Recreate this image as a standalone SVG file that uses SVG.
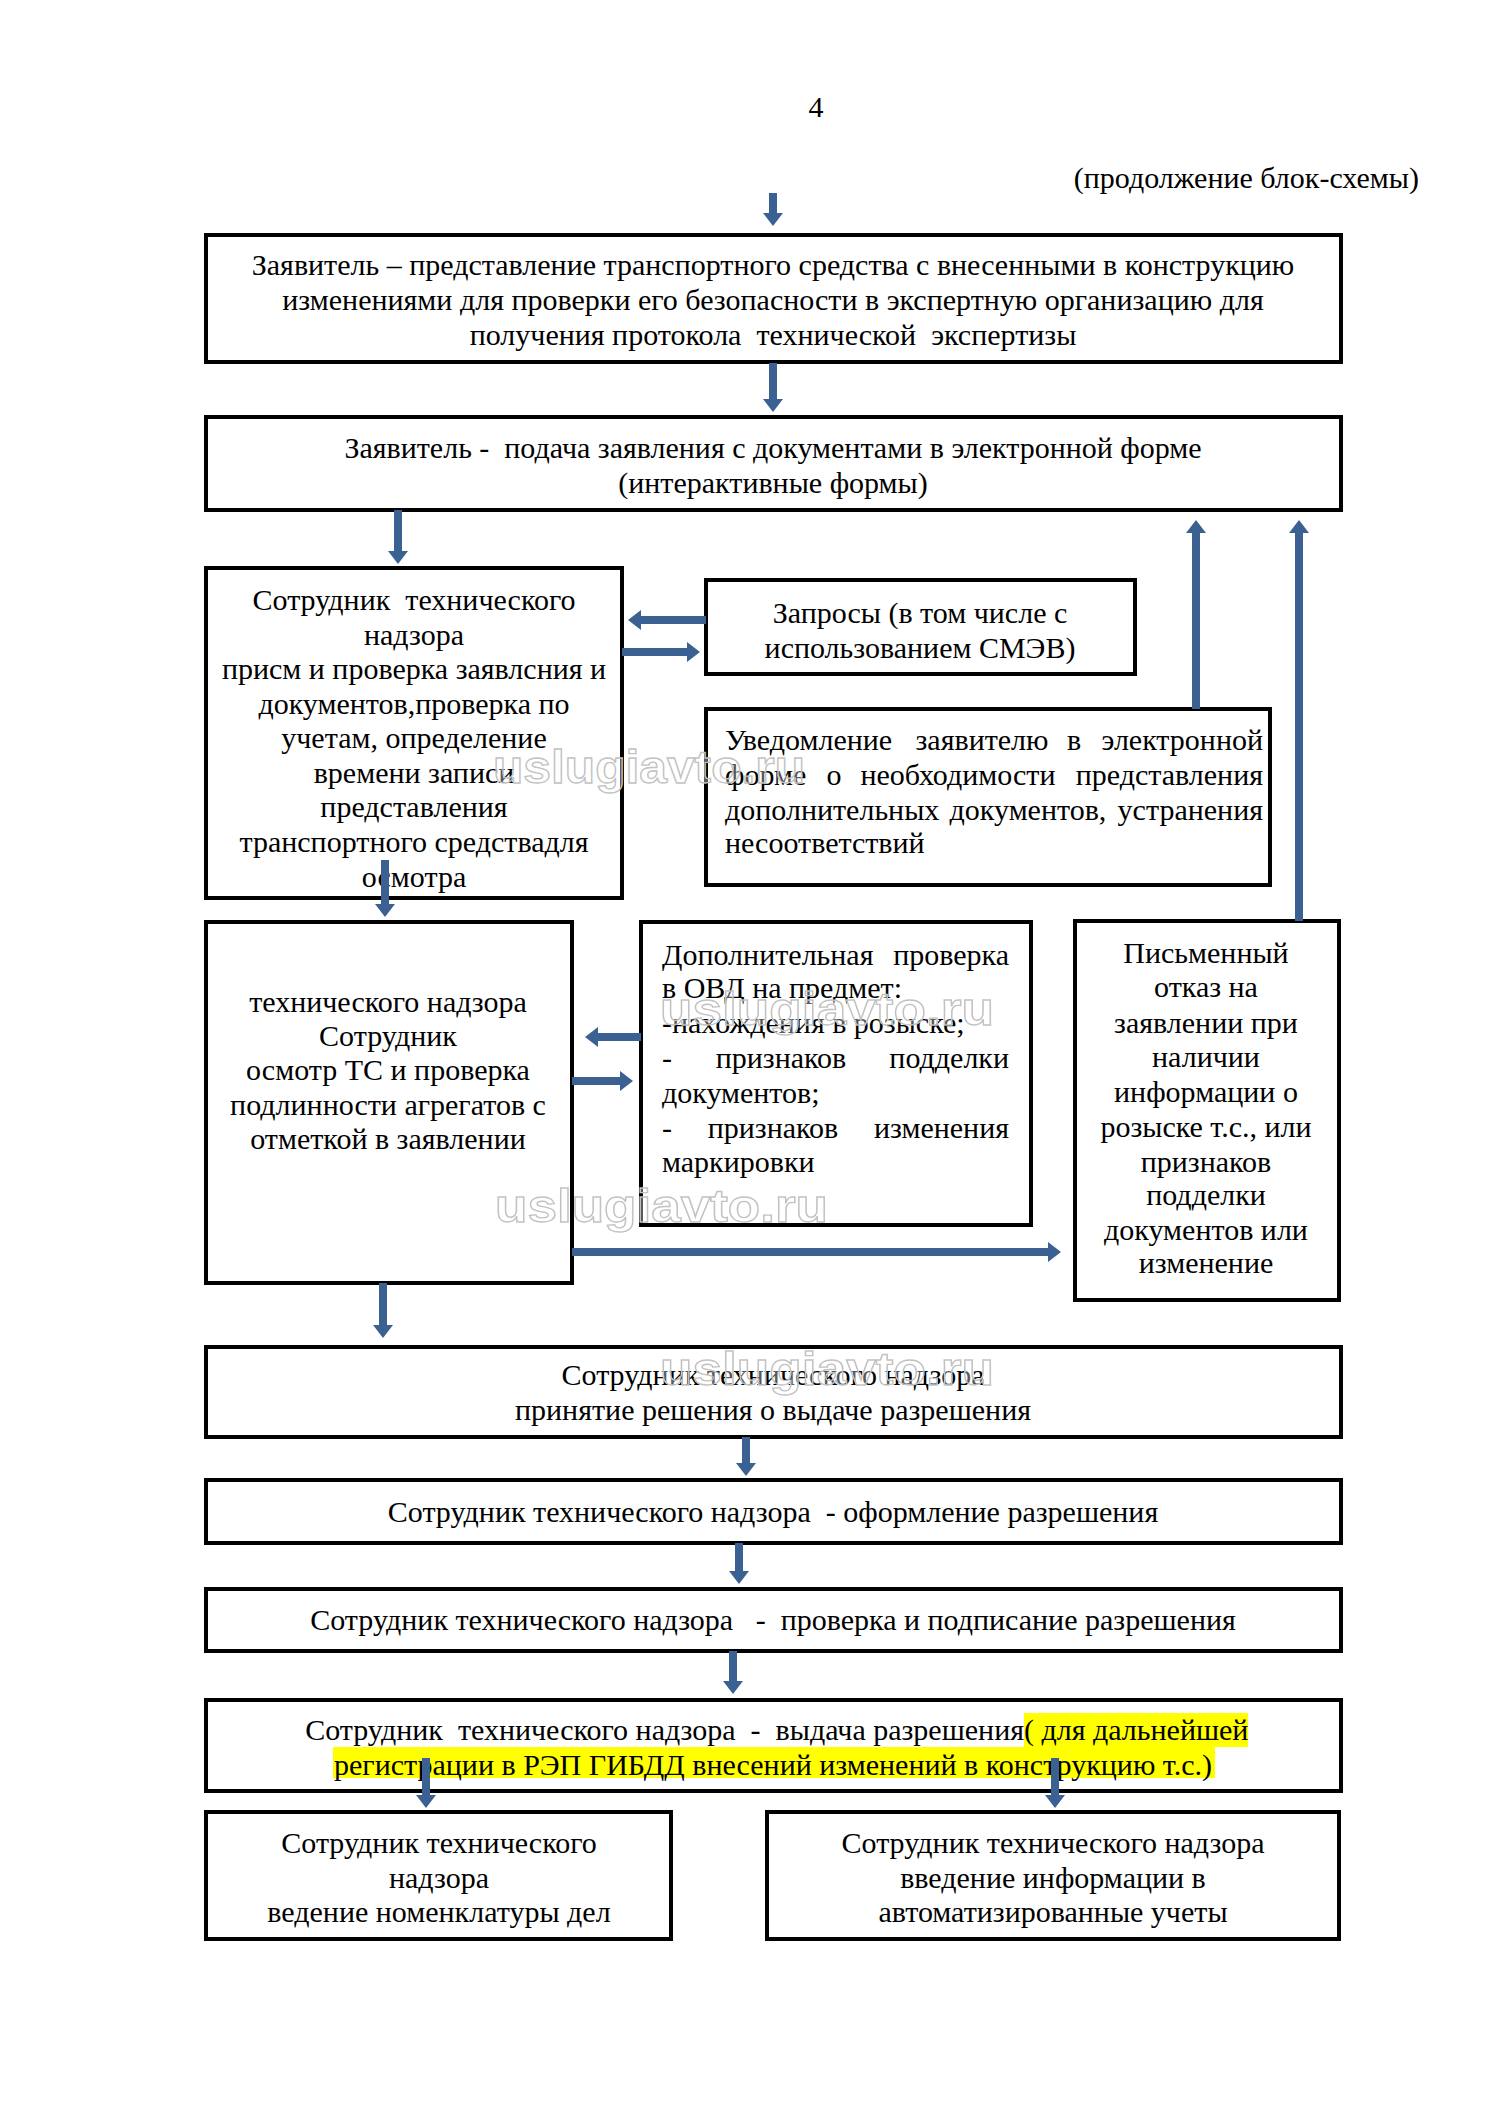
<svg xmlns="http://www.w3.org/2000/svg" width="1489" height="2105" viewBox="0 0 1489 2105">
<style>
.box{fill:#fff;stroke:#000;stroke-width:4}
.t{font-family:"Liberation Serif","Times New Roman",serif;font-size:30px;fill:#000;white-space:pre}
.c{text-anchor:middle}
.e{text-anchor:end}
.arr{stroke:#3B6192;stroke-width:8;fill:none;marker-end:url(#ah)}
.wm{font-family:"Liberation Sans",Arial,sans-serif;font-weight:bold;font-size:46px;fill:#fff;fill-opacity:0.35;stroke:#c2c2c2;stroke-width:1.3}
.hl{fill:#FFFF00}
</style>
<defs>
<marker id="ah" markerUnits="userSpaceOnUse" markerWidth="14" markerHeight="22" viewBox="0 -11 14 22" refX="1" refY="0" orient="auto">
<path d="M0,-10 L13,0 L0,10 z" fill="#3B6192"/>
</marker>
</defs>
<rect width="1489" height="2105" fill="#fff"/>
<text class="t c" x="816" y="117">4</text>
<text class="t e" x="1419" y="188">(продолжение блок-схемы)</text>

<g id="n1"><rect class="box" x="206" y="235" width="1135" height="127"/>
<text class="t c" x="773" y="275">Заявитель – представление транспортного средства с внесенными в конструкцию</text>
<text class="t c" x="773" y="310">изменениями для проверки его безопасности в экспертную организацию для</text>
<text class="t c" x="773" y="345">получения протокола  технической  экспертизы</text></g>

<g id="n2"><rect class="box" x="206" y="417" width="1135" height="93"/>
<text class="t c" x="773" y="458">Заявитель -  подача заявления с документами в электронной форме</text>
<text class="t c" x="773" y="493">(интерактивные формы)</text></g>

<g id="n3"><rect class="box" x="206" y="568" width="416" height="330"/>
<text class="t c" x="414" y="610">Сотрудник  технического</text>
<text class="t c" x="414" y="645">надзора</text>
<text class="t c" x="414" y="679">присм и проверка заявлсния и</text>
<text class="t c" x="414" y="714">документов,проверка по</text>
<text class="t c" x="414" y="748">учетам, определение</text>
<text class="t c" x="414" y="783">времени записи</text>
<text class="t c" x="414" y="817">представления</text>
<text class="t c" x="414" y="852">транспортного средствадля</text>
<text class="t c" x="414" y="887">осмотра</text></g>

<g id="n4"><rect class="box" x="706" y="580" width="429" height="94"/>
<text class="t c" x="920" y="623">Запросы (в том числе с</text>
<text class="t c" x="920" y="658">использованием СМЭВ)</text></g>

<g id="n5"><rect class="box" x="706" y="709" width="564" height="176"/>
<text class="t" x="725" y="750">Уведомление</text>
<text class="t c" x="982" y="750">заявителю</text>
<text class="t c" x="1074" y="750">в</text>
<text class="t e" x="1263" y="750">электронной</text>
<text class="t" x="725" y="785">форме</text>
<text class="t c" x="834" y="785">о</text>
<text class="t c" x="958" y="785">необходимости</text>
<text class="t e" x="1263" y="785">представления</text>
<text class="t" x="725" y="820">дополнительных</text>
<text class="t c" x="1028" y="820">документов,</text>
<text class="t e" x="1263" y="820">устранения</text>
<text class="t" x="725" y="853">несоответствий</text></g>

<g id="n6"><rect class="box" x="206" y="922" width="366" height="361"/>
<text class="t c" x="388" y="1012">технического надзора</text>
<text class="t c" x="388" y="1046">Сотрудник</text>
<text class="t c" x="388" y="1080">осмотр ТС и проверка</text>
<text class="t c" x="388" y="1115">подлинности агрегатов с</text>
<text class="t c" x="388" y="1149">отметкой в заявлении</text></g>

<g id="n7"><rect class="box" x="641" y="922" width="390" height="303"/>
<text class="t" x="662" y="965">Дополнительная</text>
<text class="t e" x="1009" y="965">проверка</text>
<text class="t" x="662" y="998">в ОВД на предмет:</text>
<text class="t" x="662" y="1033">-нахождения в розыске;</text>
<text class="t" x="662" y="1068">-</text>
<text class="t c" x="781" y="1068">признаков</text>
<text class="t e" x="1009" y="1068">подделки</text>
<text class="t" x="662" y="1103">документов;</text>
<text class="t" x="662" y="1138">-</text>
<text class="t c" x="773" y="1138">признаков</text>
<text class="t e" x="1009" y="1138">изменения</text>
<text class="t" x="662" y="1172">маркировки</text></g>

<g id="n8"><rect class="box" x="1075" y="921" width="264" height="379"/>
<text class="t c" x="1206" y="963">Письменный</text>
<text class="t c" x="1206" y="997">отказ на</text>
<text class="t c" x="1206" y="1033">заявлении при</text>
<text class="t c" x="1206" y="1067">наличии</text>
<text class="t c" x="1206" y="1102">информации о</text>
<text class="t c" x="1206" y="1137">розыске т.с., или</text>
<text class="t c" x="1206" y="1172">признаков</text>
<text class="t c" x="1206" y="1205">подделки</text>
<text class="t c" x="1206" y="1240">документов или</text>
<text class="t c" x="1206" y="1273">изменение</text></g>

<g id="n9"><rect class="box" x="206" y="1347" width="1135" height="90"/>
<text class="t c" x="773" y="1385">Сотрудник технического надзора</text>
<text class="t c" x="773" y="1420">принятие решения о выдаче разрешения</text></g>

<g id="n10"><rect class="box" x="206" y="1480" width="1135" height="63"/>
<text class="t c" x="773" y="1522">Сотрудник технического надзора  - оформление разрешения</text></g>

<g id="n11"><rect class="box" x="206" y="1589" width="1135" height="62"/>
<text class="t c" x="773" y="1630">Сотрудник технического надзора   -  проверка и подписание разрешения</text></g>

<g id="n12"><rect class="box" x="206" y="1700" width="1135" height="91"/>
<rect class="hl" x="1024" y="1713" width="224" height="34"/>
<rect class="hl" x="333" y="1747" width="882" height="31"/>
<text class="t e" x="1024" y="1740">Сотрудник  технического надзора  -  выдача разрешения</text>
<text class="t" x="1024" y="1740">( для дальнейшей</text>
<text class="t c" x="773" y="1775">регистрации в РЭП ГИБДД внесений изменений в конструкцию т.с.)</text></g>

<g id="n13"><rect class="box" x="206" y="1812" width="465" height="127"/>
<text class="t c" x="439" y="1853">Сотрудник технического</text>
<text class="t c" x="439" y="1888">надзора</text>
<text class="t c" x="439" y="1922">ведение номенклатуры дел</text></g>

<g id="n14"><rect class="box" x="767" y="1812" width="572" height="127"/>
<text class="t c" x="1053" y="1853">Сотрудник технического надзора</text>
<text class="t c" x="1053" y="1888">введение информации в</text>
<text class="t c" x="1053" y="1922">автоматизированные учеты</text></g>

<g id="connectors">
<line class="arr" x1="773" y1="193" x2="773" y2="214"/>
<line class="arr" x1="773" y1="363" x2="773" y2="400"/>
<line class="arr" x1="398" y1="510" x2="398" y2="552"/>
<line class="arr" x1="706" y1="620" x2="640" y2="620"/>
<line class="arr" x1="622" y1="652" x2="688" y2="652"/>
<line class="arr" x1="1196" y1="709" x2="1196" y2="532"/>
<line class="arr" x1="1299" y1="921" x2="1299" y2="532"/>
<line class="arr" x1="385" y1="860" x2="385" y2="905"/>
<line class="arr" x1="641" y1="1037" x2="597" y2="1037"/>
<line class="arr" x1="572" y1="1081" x2="621" y2="1081"/>
<line class="arr" x1="572" y1="1252" x2="1049" y2="1252"/>
<line class="arr" x1="383" y1="1283" x2="383" y2="1326"/>
<line class="arr" x1="746" y1="1437" x2="746" y2="1464"/>
<line class="arr" x1="739" y1="1543" x2="739" y2="1572"/>
<line class="arr" x1="733" y1="1651" x2="733" y2="1682"/>
<line class="arr" x1="426" y1="1758" x2="426" y2="1796"/>
<line class="arr" x1="1055" y1="1758" x2="1055" y2="1796"/>
</g>

<g id="watermarks">
<text class="wm" x="493" y="783" textLength="312" lengthAdjust="spacingAndGlyphs">uslugiavto.ru</text>
<text class="wm" x="660" y="1025" textLength="334" lengthAdjust="spacingAndGlyphs">uslugiavto.ru</text>
<text class="wm" x="495" y="1222" textLength="333" lengthAdjust="spacingAndGlyphs">uslugiavto.ru</text>
<text class="wm" x="660" y="1385" textLength="334" lengthAdjust="spacingAndGlyphs">uslugiavto.ru</text>
</g>
</svg>
